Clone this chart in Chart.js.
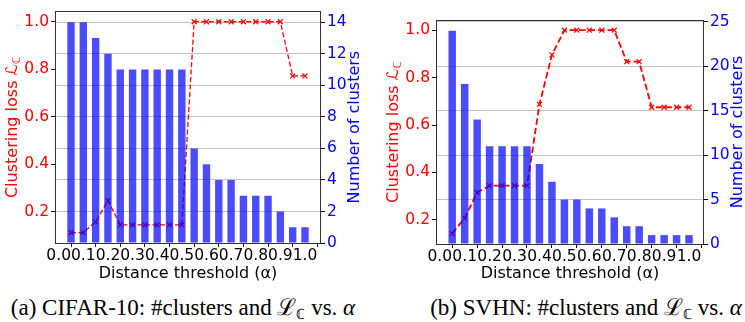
<!DOCTYPE html>
<html>
<head>
<meta charset="utf-8">
<script src="https://cdn.jsdelivr.net/npm/chart.js@4.4.0/dist/chart.umd.min.js"></script>
<style>
  body { margin: 0; background: #fff; width: 745px; height: 322px; position: relative; overflow: hidden; }
  .panel { position: absolute; top: 0; height: 285px; }
  #panelA { left: 0; width: 372px; }
  #panelB { left: 372px; width: 373px; }
  .cap {
    position: absolute; top: 296px; transform: translateX(-50%);
    font-family: "Liberation Serif", serif; font-size: 23px; line-height: 23px;
    white-space: nowrap; color: #000;
  }
  .cap sub { font-size: 14px; vertical-align: -4px; }
</style>
</head>
<body>
<div class="panel" id="panelA"><canvas id="chartA" width="372" height="285"></canvas></div>
<div class="panel" id="panelB"><canvas id="chartB" width="373" height="285"></canvas></div>
<div class="cap" style="left:183px">(a) CIFAR-10: #clusters and ℒ<sub>ℂ</sub> vs. <i>α</i></div>
<div class="cap" style="left:586px">(b) SVHN: #clusters and ℒ<sub>ℂ</sub> vs. <i>α</i></div>
<script>
// Données
const alphas = [0.05, 0.10, 0.15, 0.20, 0.25, 0.30, 0.35, 0.40, 0.45, 0.50,
                0.55, 0.60, 0.65, 0.70, 0.75, 0.80, 0.85, 0.90, 0.95, 1.00];
const xTicks = [0.0, 0.1, 0.2, 0.3, 0.4, 0.5, 0.6, 0.7, 0.8, 0.9, 1.0];
const lossTicks = [0.2, 0.4, 0.6, 0.8, 1.0];

// CIFAR-10
const cifarClusters = [14, 14, 13, 12, 11, 11, 11, 11, 11, 11, 6, 5, 4, 4, 3, 3, 3, 2, 1, 1];
const cifarLoss = [0.113, 0.113, 0.158, 0.247, 0.145, 0.145, 0.145, 0.145, 0.145, 0.145,
                   1.0, 1.0, 1.0, 1.0, 1.0, 1.0, 1.0, 1.0, 0.772, 0.772];
const cifarCountTicks = [0, 2, 4, 6, 8, 10, 12, 14];

// SVHN
const svhnClusters = [24, 18, 14, 11, 11, 11, 11, 9, 7, 5, 5, 4, 4, 3, 2, 2, 1, 1, 1, 1];
const svhnLoss = [0.142, 0.207, 0.315, 0.344, 0.344, 0.344, 0.344, 0.687, 0.896, 1.0,
                  1.0, 1.0, 1.0, 1.0, 0.867, 0.867, 0.675, 0.675, 0.675, 0.675];
const svhnCountTicks = [0, 5, 10, 15, 20, 25];

const FONT = 'DejaVu Sans';
const TICK_SIZE = 15.5;
const RED = '#ff0000';
const BLUE = '#0000ff';

// Cadre + titres verticaux (le titre de droite se lit de bas en haut)
const framePlugin = {
  id: 'frameTitles',
  afterDatasetsDraw(chart, args, opts) {
    const ctx = chart.ctx;
    const a = chart.chartArea;
    ctx.save();
    ctx.strokeStyle = '#333';
    ctx.lineWidth = 1;
    ctx.strokeRect(Math.round(a.left) + 0.5, Math.round(a.top) + 0.5,
                   Math.round(a.right - a.left) - 1, Math.round(a.bottom - a.top));
    ctx.restore();

    const midY = (a.top + a.bottom) / 2;
    drawVertical(ctx, opts.leftX, midY, [
      { text: 'Clustering loss ', font: `16px "${FONT}"`, color: RED },
      { text: 'ℒ', font: `16px "${FONT}"`, color: RED },
      { text: 'ℂ', font: `11px "${FONT}"`, color: RED, dy: 4 }
    ]);
    drawVertical(ctx, opts.rightX, midY, [
      { text: 'Number of clusters', font: `16px "${FONT}"`, color: BLUE }
    ]);
  }
};

function drawVertical(ctx, x, y, parts) {
  ctx.save();
  ctx.translate(x, y);
  ctx.rotate(-Math.PI / 2);
  ctx.textBaseline = 'middle';
  ctx.textAlign = 'left';
  let total = 0;
  parts.forEach(p => { ctx.font = p.font; p.w = ctx.measureText(p.text).width; total += p.w; });
  let cx = -total / 2;
  parts.forEach(p => {
    ctx.font = p.font;
    ctx.fillStyle = p.color;
    ctx.fillText(p.text, cx, p.dy || 0);
    cx += p.w;
  });
  ctx.restore();
}

function setTicks(values) {
  return scale => { scale.ticks = values.map(v => ({ value: v })); };
}

function buildChart(id, clusters, loss, countTicks, cfg) {
  const barData = alphas.map((a, i) => ({ x: a, y: clusters[i] }));
  const lineData = alphas.map((a, i) => ({ x: a, y: loss[i] }));

  return new Chart(document.getElementById(id), {
    type: 'bar',
    data: {
      datasets: [
        {
          type: 'bar',
          data: barData,
          yAxisID: 'yCount',
          backgroundColor: 'rgba(0, 0, 255, 0.7)',
          borderWidth: 0,
          barPercentage: 0.6,
          categoryPercentage: 1.0,
          order: 0
        },
        {
          type: 'line',
          data: lineData,
          yAxisID: 'yLoss',
          borderColor: RED,
          borderWidth: cfg.lineWidth,
          borderDash: cfg.dash,
          pointStyle: 'crossRot',
          pointRadius: 3.5,
          pointBorderWidth: 1.2,
          pointBorderColor: RED,
          pointBackgroundColor: RED,
          fill: false,
          tension: 0,
          order: 1
        }
      ]
    },
    options: {
      responsive: false,
      animation: false,
      devicePixelRatio: 1,
      layout: { padding: { top: cfg.top, left: 0, right: 0, bottom: 0 } },
      plugins: {
        legend: { display: false },
        tooltip: { enabled: false },
        frameTitles: { leftX: cfg.leftTitleX, rightX: cfg.rightTitleX }
      },
      scales: {
        x: {
          type: 'linear',
          min: -0.015,
          max: cfg.xMax,
          offset: false,
          afterBuildTicks: setTicks(xTicks),
          afterFit: s => { s.height = cfg.xHeight; },
          ticks: {
            color: '#000',
            font: { family: FONT, size: TICK_SIZE },
            maxRotation: 0,
            autoSkip: false,
            padding: 0,
            callback: v => Number(v).toFixed(1)
          },
          grid: { drawOnChartArea: false, tickLength: 4, tickColor: '#000', tickWidth: 1 },
          border: { display: false },
          title: {
            display: true,
            text: 'Distance threshold (α)',
            color: '#000',
            font: { family: FONT, size: 16 },
            padding: { top: 0, bottom: 2 }
          }
        },
        yLoss: {
          position: 'left',
          min: cfg.lossMin,
          max: cfg.lossMax,
          afterBuildTicks: setTicks(lossTicks),
          afterFit: s => { s.width = cfg.leftWidth; },
          ticks: {
            color: RED,
            font: { family: FONT, size: TICK_SIZE },
            padding: 2,
            callback: v => Number(v).toFixed(1)
          },
          grid: { drawOnChartArea: false, tickLength: 4, tickColor: '#000' },
          border: { display: false }
        },
        yCount: {
          position: 'right',
          min: 0,
          max: cfg.countMax,
          afterBuildTicks: setTicks(countTicks),
          afterFit: s => { s.width = cfg.rightWidth; },
          ticks: {
            color: BLUE,
            font: { family: FONT, size: TICK_SIZE },
            padding: 2,
            callback: v => String(v)
          },
          grid: { color: '#c4c4c4', lineWidth: 1, tickLength: 4, tickColor: '#000' },
          border: { display: false }
        }
      }
    },
    plugins: [framePlugin]
  });
}

buildChart('chartA', cifarClusters, cifarLoss, cifarCountTicks, {
  top: 5, leftWidth: 55, rightWidth: 51, xHeight: 42, xMax: 1.065,
  lossMin: 0.069, lossMax: 1.044, countMax: 14.7,
  leftTitleX: 13, rightTitleX: 355,
  lineWidth: 1.3, dash: [5, 2.5]
});

buildChart('chartB', svhnClusters, svhnLoss, svhnCountTicks, {
  top: 20, leftWidth: 64, rightWidth: 41, xHeight: 41, xMax: 1.06,
  lossMin: 0.098, lossMax: 1.043, countMax: 25.2,
  leftTitleX: 22, rightTitleX: 366,
  lineWidth: 1.8, dash: [6.5, 3]
});
</script>
</body>
</html>
